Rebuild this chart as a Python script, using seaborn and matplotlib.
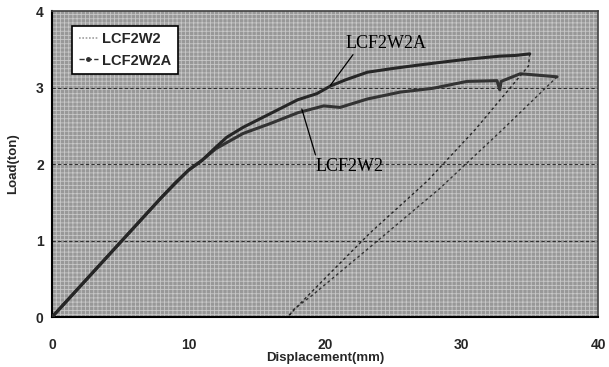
import matplotlib
matplotlib.use("Agg")
import matplotlib.pyplot as plt
import seaborn as sns
import pandas as pd
from matplotlib.lines import Line2D

# ---- data ----
series_names = ["LCF2W2", "LCF2W2A"]

w2_load_x = [0, 2, 4, 6, 8, 10, 11, 12, 12.8, 14, 16, 18, 19.9, 21.1, 23.1, 25.5,
             27.9, 30.4, 32.6, 32.8, 32.9, 34.3, 35.0, 37.0]
w2_load_y = [0, 0.39, 0.78, 1.17, 1.56, 1.92, 2.05, 2.20, 2.28, 2.40, 2.53, 2.67, 2.76,
             2.74, 2.85, 2.94, 2.99, 3.08, 3.09, 2.97, 3.08, 3.18, 3.17, 3.14]
w2_unload_x = [37.0, 33.0, 28.4, 23.8, 19.1, 17.7, 17.3]
w2_unload_y = [3.14, 2.45, 1.68, 0.99, 0.29, 0.10, 0.0]

w2a_load_x = [0, 2, 4, 6, 8, 9, 10, 11, 12, 12.8, 14, 16, 18, 19.4, 20.4, 21.5, 23.1,
              25.0, 26.7, 28.5, 30.4, 32.8, 34.0, 35.0]
w2a_load_y = [0, 0.39, 0.78, 1.17, 1.56, 1.75, 1.92, 2.05, 2.22, 2.35, 2.48, 2.66, 2.84,
              2.92, 3.02, 3.10, 3.20, 3.25, 3.29, 3.33, 3.37, 3.41, 3.42, 3.44]
w2a_unload_x = [35.0, 34.9, 31.0, 27.5, 23.3, 20.4, 18.2, 17.4, 16.8]
w2a_unload_y = [3.44, 3.28, 2.45, 1.78, 1.10, 0.58, 0.18, 0.03, -0.07]

x_ticks = [0, 10, 20, 30, 40]
y_ticks = [0, 1, 2, 3, 4]
x_label = "Displacement(mm)"
y_label = "Load(ton)"

# ---- tables ----
load_df = pd.concat([
    pd.DataFrame({"x": w2_load_x, "y": w2_load_y, "series": "LCF2W2"}),
    pd.DataFrame({"x": w2a_load_x, "y": w2a_load_y, "series": "LCF2W2A"}),
], ignore_index=True)
unload_df = pd.concat([
    pd.DataFrame({"x": w2_unload_x, "y": w2_unload_y, "series": "LCF2W2"}),
    pd.DataFrame({"x": w2a_unload_x, "y": w2a_unload_y, "series": "LCF2W2A"}),
], ignore_index=True)

sns.set_theme(style="white")
plt.rcParams["font.family"] = ["Liberation Sans", "DejaVu Sans"]
plt.rcParams["hatch.linewidth"] = 0.6

fig = plt.figure(figsize=(6.09, 3.67), dpi=100)
ax = fig.add_axes([0.0854, 0.136, 0.8966, 0.834])

# textured grey background
ax.set_facecolor("#989898")
bg = plt.Rectangle((0, 0), 1, 1, transform=ax.transAxes, facecolor="none",
                   edgecolor="#c8c8c8", hatch="++++", linewidth=0, zorder=0.5)
ax.add_patch(bg)

pal = {"LCF2W2": "#333333", "LCF2W2A": "#262626"}
sns.lineplot(data=load_df, x="x", y="y", hue="series", units="series", estimator=None,
             sort=False, palette=pal, linewidth=2.2, legend=False, ax=ax, zorder=3)
sns.lineplot(data=unload_df, x="x", y="y", hue="series", units="series", estimator=None,
             sort=False, palette=pal, linewidth=1.0, linestyle=(0, (2, 2)),
             legend=False, ax=ax, zorder=3)

ax.set_xlim(0, 40)
ax.set_ylim(0, 4)
ax.set_xticks(x_ticks)
ax.set_yticks(y_ticks)
ax.set_xticklabels([str(t) for t in x_ticks], fontweight="bold", fontsize=10)
ax.set_yticklabels([str(t) for t in y_ticks], fontweight="bold", fontsize=10)
ax.tick_params(axis="both", direction="in", length=3, width=1, color="black")
ax.tick_params(axis="x", pad=15)
ax.tick_params(axis="y", pad=6)
ax.set_xlabel(x_label, fontweight="bold", fontsize=9.5, labelpad=0)
ax.set_ylabel(y_label, fontweight="bold", fontsize=9.5, labelpad=12)

for yv in [1, 2, 3]:
    ax.axhline(yv, color="#303030", linestyle=(0, (3, 2)), linewidth=0.8, zorder=2)

for s in ["left", "bottom"]:
    ax.spines[s].set_color("black")
    ax.spines[s].set_linewidth(1.5)
for s in ["top", "right"]:
    ax.spines[s].set_color("#404040")
    ax.spines[s].set_linewidth(1.2)

# annotations (label text + leader line)
serif = ["Liberation Serif", "DejaVu Serif"]
ax.text(24.5, 3.58, "LCF2W2A", ha="center", va="center", fontsize=13,
        family=serif, color="black", zorder=5)
ax.plot([22.05, 20.4], [3.43, 3.03], color="black", lw=0.9, zorder=5)
ax.text(21.8, 1.97, "LCF2W2", ha="center", va="center", fontsize=13,
        family=serif, color="black", zorder=5)
ax.plot([19.3, 18.3], [2.12, 2.72], color="black", lw=0.9, zorder=5)

handles = [
    Line2D([], [], color="#a0a0a0", linestyle=(0, (1, 1)), linewidth=1.2),
    Line2D([], [], color="#303030", linestyle="--", linewidth=1.0, marker="o",
           markersize=2.5),
]
leg = ax.legend(handles, series_names, loc="upper left", bbox_to_anchor=(0.037, 0.952),
                frameon=True, fancybox=False, edgecolor="black", facecolor="white",
                framealpha=1, prop={"weight": "bold", "size": 10.5}, handlelength=1.3,
                handletextpad=0.3, borderpad=0.45, labelspacing=0.5,
                borderaxespad=0)
leg.get_frame().set_linewidth(1.2)

fig.savefig("out.png", dpi=100)
